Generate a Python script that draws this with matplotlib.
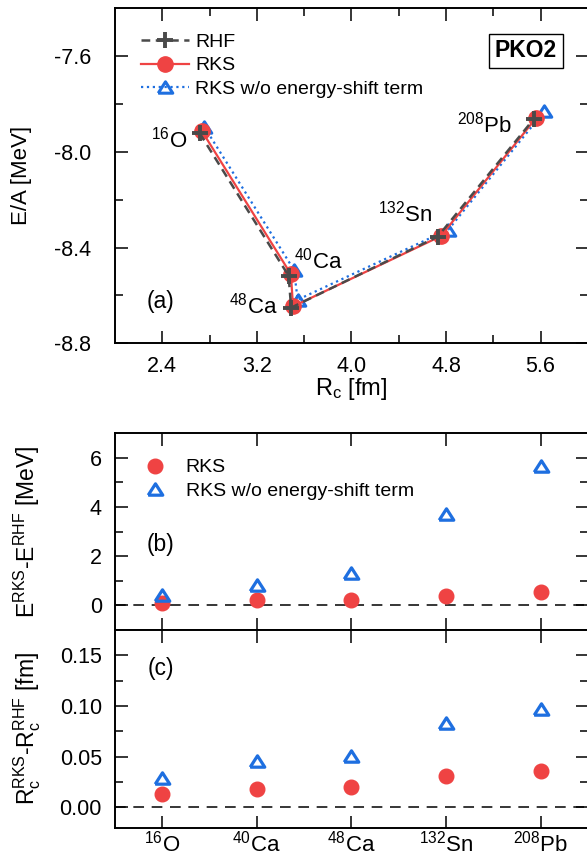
import matplotlib
matplotlib.use("Agg")
import matplotlib.pyplot as plt
from matplotlib.ticker import FixedLocator

plt.rcParams['font.family'] = ['Liberation Sans', 'DejaVu Sans']
plt.rcParams['mathtext.fontset'] = 'custom'
plt.rcParams['mathtext.rm'] = 'Liberation Sans'
plt.rcParams['mathtext.it'] = 'Liberation Sans:italic'
plt.rcParams['mathtext.bf'] = 'Liberation Sans:bold'
plt.rcParams['mathtext.default'] = 'regular'

# ---------------- data ----------------
nuclei = [r'$^{16}$O', r'$^{40}$Ca', r'$^{48}$Ca', r'$^{132}$Sn', r'$^{208}$Pb']

# panel (a): charge radius [fm] and binding energy per nucleon [MeV]
rc_rhf = [2.715, 3.469, 3.490, 4.731, 5.544]
ea_rhf = [-7.921, -8.518, -8.651, -8.354, -7.862]
rc_rks = [2.735, 3.488, 3.506, 4.757, 5.562]
ea_rks = [-7.913, -8.511, -8.646, -8.352, -7.859]
rc_noshift = [2.755, 3.515, 3.545, 4.820, 5.630]
ea_noshift = [-7.895, -8.494, -8.618, -8.325, -7.831]

# panel (b): E^RKS - E^RHF [MeV]
de_rks = [0.10, 0.20, 0.24, 0.39, 0.54]
de_noshift = [0.42, 0.82, 1.30, 3.73, 5.69]

# panel (c): Rc^RKS - Rc^RHF [fm]
dr_rks = [0.013, 0.018, 0.020, 0.031, 0.036]
dr_noshift = [0.029, 0.046, 0.051, 0.083, 0.097]

positions = [1, 2, 3, 4, 5]

# ---------------- style ----------------
RED = '#EF4343'
BLUE = '#1E6FE0'
GRAY = '#4A4A4A'
TRI = [(-1, -0.78), (1, -0.78), (0, 0.78), (-1, -0.78)]
TICK_FS = 15.5

W, H = 587, 856
fig = plt.figure(figsize=(W / 100, H / 100), dpi=100)


def px_axes(l, t, r, b):
    return fig.add_axes([l / W, 1 - b / H, (r - l) / W, (b - t) / H])


axa = px_axes(115, 8.3, 587.8, 343.3)
axb = px_axes(115, 433.3, 587.8, 630)
axc = px_axes(115, 630, 587.8, 827.7)

for ax in (axa, axb, axc):
    for s in ax.spines.values():
        s.set_linewidth(1.4)
    ax.tick_params(which='both', direction='in', top=True, right=True, width=1.1)
    ax.tick_params(which='major', length=9)
    ax.tick_params(which='minor', length=5.5)

# ---------------- panel (a) ----------------
axa.plot(rc_noshift, ea_noshift, linestyle=':', color=BLUE, lw=1.6,
         marker=TRI, ms=10.5, mfc='none', mec=BLUE, mew=2.2,
         label='RKS w/o energy-shift term', zorder=3)
axa.plot(rc_rks, ea_rks, linestyle='-', color=RED, lw=1.6,
         marker='o', ms=11, mfc=RED, mec=RED, label='RKS', zorder=4)
axa.plot(rc_rhf, ea_rhf, linestyle=(0, (3.5, 2.2)), color=GRAY, lw=1.8,
         marker='+', ms=11, mew=2.8, mec=GRAY, label='RHF', zorder=5)

axa.set_xlim(2.0, 6.0)
axa.set_ylim(-8.8, -7.4)
axa.set_xticks([2.4, 3.2, 4.0, 4.8, 5.6])
axa.set_xticklabels(['2.4', '3.2', '4.0', '4.8', '5.6'])
axa.xaxis.set_minor_locator(FixedLocator([2.8, 3.6, 4.4, 5.2]))
axa.set_yticks([-8.8, -8.4, -8.0, -7.6])
axa.set_yticklabels(['-8.8', '-8.4', '-8.0', '-7.6'])
axa.yaxis.set_minor_locator(FixedLocator([-8.6, -8.2, -7.8]))
axa.tick_params(axis='y', which='both', labelsize=TICK_FS, pad=17)
axa.tick_params(axis='x', which='both', labelsize=TICK_FS, pad=9)
axa.set_xlabel(r'R$_c$ [fm]', fontsize=17)
axa.xaxis.set_label_coords(0.5, -0.135)
axa.xaxis.label.set_va('center')
axa.set_ylabel('E/A [MeV]', fontsize=16)
axa.yaxis.set_label_coords(-0.197, 0.5)
axa.yaxis.label.set_va('center')

h, l = axa.get_legend_handles_labels()
order = [2, 1, 0]
axa.legend([h[i] for i in order], [l[i] for i in order], loc='upper left',
           bbox_to_anchor=(0.056, 0.925), frameon=False, fontsize=14,
           handlelength=2.45, handletextpad=0.3, labelspacing=0.3,
           borderaxespad=0, borderpad=0)

lab_fs = 16
axa.text(2.614, -7.983, nuclei[0], fontsize=lab_fs, ha='right', va='baseline')
axa.text(3.511, -8.488, nuclei[1], fontsize=lab_fs, ha='left', va='baseline')
axa.text(3.376, -8.677, nuclei[2], fontsize=lab_fs, ha='right', va='baseline')
axa.text(4.685, -8.292, nuclei[3], fontsize=lab_fs, ha='right', va='baseline')
axa.text(5.361, -7.917, nuclei[4], fontsize=lab_fs, ha='right', va='baseline')
axa.text(0.067, 0.105, '(a)', transform=axa.transAxes, fontsize=16.5,
         ha='left', va='baseline')
axa.text(0.869, 0.873, 'PKO2', transform=axa.transAxes, fontsize=16.5,
         fontweight='bold', ha='center', va='center',
         bbox=dict(boxstyle='square,pad=0.25', fc='white', ec='black', lw=1.0))

# ---------------- panel (b) ----------------
axb.axhline(0, color='black', lw=1.1, linestyle=(0, (7, 5)), zorder=1)
axb.plot(positions, de_rks, linestyle='none', marker='o', ms=10.5,
         color=RED, label='RKS', zorder=3)
axb.plot(positions, de_noshift, linestyle='none', marker=TRI, ms=10.5,
         mfc='none', mec=BLUE, mew=2.3, label='RKS w/o energy-shift term',
         zorder=4)
axb.set_xlim(0.5, 5.5)
axb.set_ylim(-1, 7)
axb.set_xticks(positions)
axb.tick_params(axis='x', labelbottom=False)
axb.set_yticks([0, 2, 4, 6])
axb.yaxis.set_minor_locator(FixedLocator([1, 3, 5]))
axb.tick_params(axis='y', which='both', labelsize=TICK_FS, pad=9.5)
axb.set_ylabel(r'E$^{RKS}$-E$^{RHF}$ [MeV]', fontsize=16.5)
axb.yaxis.set_label_coords(-0.186, 0.5)
axb.yaxis.label.set_va('center')
axb.legend(loc='upper left', bbox_to_anchor=(0.065, 0.87), frameon=False,
           fontsize=14, handlelength=1.0, handletextpad=1.05,
           labelspacing=0.3, borderaxespad=0, borderpad=0)
axb.text(0.066, 0.40, '(b)', transform=axb.transAxes, fontsize=16.5,
         ha='left', va='baseline')

# ---------------- panel (c) ----------------
axc.axhline(0, color='black', lw=1.1, linestyle=(0, (7, 5)), zorder=1)
axc.plot(positions, dr_rks, linestyle='none', marker='o', ms=10.5,
         color=RED, zorder=3)
axc.plot(positions, dr_noshift, linestyle='none', marker=TRI, ms=10.5,
         mfc='none', mec=BLUE, mew=2.3, zorder=4)
axc.set_xlim(0.5, 5.5)
axc.set_ylim(-0.02, 0.175)
axc.set_xticks(positions)
axc.set_xticklabels(nuclei)
axc.tick_params(axis='x', labelsize=16, pad=2)
axc.set_yticks([0.0, 0.05, 0.10, 0.15])
axc.set_yticklabels(['0.00', '0.05', '0.10', '0.15'])
axc.yaxis.set_minor_locator(FixedLocator([0.025, 0.075, 0.125]))
axc.tick_params(axis='y', which='both', labelsize=TICK_FS, pad=9.5)
axc.set_ylabel(r'R$_c^{RKS}$-R$_c^{RHF}$ [fm]', fontsize=16.5)
axc.yaxis.set_label_coords(-0.186, 0.5)
axc.yaxis.label.set_va('center')
axc.text(0.068, 0.772, '(c)', transform=axc.transAxes, fontsize=16.5,
         ha='left', va='baseline')

fig.savefig('out.png', dpi=100)
